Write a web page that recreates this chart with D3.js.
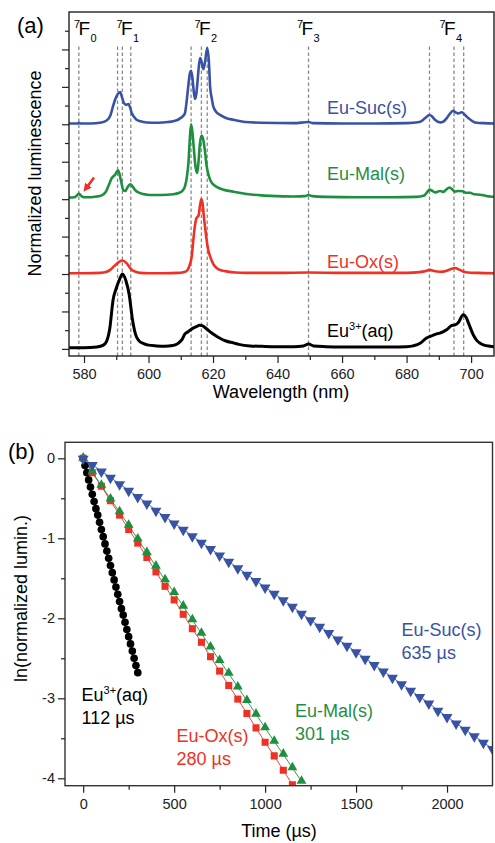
<!DOCTYPE html>
<html><head><meta charset="utf-8">
<script src="https://cdn.jsdelivr.net/npm/d3@7"></script>
<style>body{margin:0;background:#fff}svg{display:block}text{font-family:"Liberation Sans",Arial,sans-serif}</style>
</head><body><svg id="c" width="495" height="843"></svg>
<script>
// ---------- Panel (a) data: emission spectra [wavelength nm, normalized intensity] ----------
const seriesNames = ["Eu3+(aq)", "Eu-Ox(s)", "Eu-Mal(s)", "Eu-Suc(s)"];
const seriesOffsets = [0, 2, 4, 6];
const spectrumAq = [[575,0.03],[580,0.03],[584,0.05],[586,0.1],[587,0.2],[588,0.55],[589,1.3],[590,1.62],[591,1.85],[591.9,2.0],[593,1.82],[594,1.45],[595,0.8],[596,0.38],[597,0.22],[598.5,0.14],[600,0.1],[602.5,0.08],[605,0.07],[607.5,0.09],[609,0.14],[610.3,0.24],[611.3,0.4],[612.3,0.46],[613.2,0.52],[614,0.56],[615,0.6],[615.8,0.63],[616.6,0.62],[617.5,0.57],[618.5,0.5],[619.5,0.43],[620.5,0.37],[622,0.29],[624,0.21],[626.3,0.16],[628,0.12],[631.5,0.08],[635,0.07],[640,0.06],[645,0.06],[648,0.08],[649.6,0.13],[651.2,0.08],[655,0.06],[660,0.05],[665,0.05],[670,0.05],[675,0.05],[680,0.06],[682,0.08],[684.2,0.15],[685.2,0.22],[686.2,0.29],[687.2,0.33],[688.3,0.37],[689.3,0.4],[690.3,0.42],[691.4,0.46],[692.4,0.51],[693.9,0.62],[695,0.64],[696,0.7],[697.6,0.91],[698.4,0.85],[699.2,0.69],[700.7,0.37],[701.8,0.22],[702.8,0.15],[704,0.1],[705.9,0.07],[708,0.05]];
const spectrumOx = [[575,0.02],[580,0.02],[585,0.03],[587,0.06],[588.1,0.11],[589,0.18],[590.1,0.27],[591,0.33],[591.9,0.36],[593.2,0.29],[594.2,0.17],[595,0.1],[596,0.06],[597.4,0.03],[600,0.02],[605,0.02],[609,0.03],[610.8,0.05],[611.8,0.08],[612.8,0.25],[613.4,0.47],[613.9,0.92],[614.4,1.3],[614.9,1.5],[615.5,1.56],[616,1.85],[616.4,2.0],[616.8,1.85],[617.2,1.5],[617.6,1.2],[618,0.92],[618.5,0.65],[619.1,0.47],[620,0.28],[621.1,0.16],[622.5,0.1],[624.2,0.07],[627,0.04],[630,0.03],[640,0.03],[649.6,0.04],[660,0.03],[680,0.03],[684,0.05],[686,0.08],[687.2,0.11],[688.5,0.08],[690.3,0.06],[692.5,0.09],[694,0.14],[695,0.16],[696,0.13],[697.5,0.07],[699,0.04],[702,0.03],[708,0.02]];
const spectrumMal = [[575,0.04],[577,0.05],[577.8,0.1],[578.4,0.15],[579,0.1],[580,0.05],[582,0.05],[584,0.07],[585.5,0.1],[586.8,0.2],[587.8,0.4],[588.6,0.56],[589.6,0.65],[590.6,0.77],[591.4,0.52],[592.2,0.24],[592.8,0.22],[593.6,0.33],[594.4,0.4],[595,0.35],[595.8,0.25],[597.4,0.16],[599.5,0.12],[601.5,0.11],[604,0.11],[607.7,0.13],[609.5,0.17],[610.5,0.22],[611.3,0.34],[611.9,0.6],[612.4,1.0],[612.8,1.6],[613.2,2.0],[613.6,1.8],[614,1.4],[614.6,0.85],[615.1,0.7],[615.5,1.0],[615.9,1.45],[616.4,1.7],[616.8,1.65],[617.4,1.35],[618,0.9],[618.6,0.65],[619.2,0.5],[620,0.4],[621.1,0.33],[623,0.26],[626.3,0.2],[630.4,0.14],[635,0.1],[640,0.08],[645,0.07],[648.5,0.08],[649.6,0.11],[650.8,0.08],[655,0.06],[665,0.05],[675,0.05],[683,0.06],[685.5,0.1],[686.5,0.2],[687.1,0.26],[688,0.22],[688.8,0.18],[689.6,0.2],[690.4,0.22],[691.3,0.19],[692.2,0.25],[693.3,0.31],[694.2,0.26],[695,0.2],[696,0.22],[697.4,0.21],[698.5,0.17],[699.7,0.17],[701,0.13],[702.8,0.12],[704.5,0.09],[705.9,0.07],[708,0.06]];
const spectrumSuc = [[575,0.02],[578,0.02],[578.4,0.04],[579,0.02],[582,0.02],[585,0.04],[587,0.1],[588.1,0.22],[588.9,0.45],[589.6,0.65],[590.4,0.8],[591.2,0.86],[591.8,0.72],[592.4,0.56],[593.1,0.52],[593.8,0.54],[594.3,0.45],[594.8,0.3],[595.5,0.2],[596.3,0.12],[597.5,0.08],[599.4,0.05],[603,0.04],[606,0.06],[608.5,0.1],[609.8,0.16],[610.7,0.22],[611.3,0.3],[611.8,0.6],[612.3,1.0],[612.8,1.35],[613.2,1.43],[613.6,1.25],[614,0.9],[614.4,0.68],[614.8,0.8],[615.2,1.15],[615.6,1.55],[616,1.77],[616.5,1.65],[617,1.47],[617.5,1.65],[618.2,2.04],[618.7,1.7],[619.1,1.0],[619.6,0.7],[620.1,0.47],[621,0.33],[622.2,0.25],[624,0.17],[626.3,0.12],[630,0.06],[635,0.04],[645,0.03],[649.6,0.06],[651,0.03],[660,0.02],[670,0.02],[680,0.03],[684,0.06],[685.7,0.16],[687.1,0.25],[688,0.2],[688.8,0.12],[690.4,0.05],[691.5,0.08],[692.4,0.16],[693.4,0.28],[694.4,0.36],[695.2,0.32],[696,0.29],[697.1,0.32],[698.2,0.24],[699.2,0.16],[700.5,0.08],[701.8,0.04],[704,0.03],[708,0.02]];
const transitionLines = [578.4, 590.4, 591.9, 594.5, 613.2, 616.4, 618.2, 649.6, 687.1, 694.7, 697.7];
const transitionLabels = [{j:"0", x:74}, {j:"1", x:116.5}, {j:"2", x:194.5}, {j:"3", x:297}, {j:"4", x:439.5}];
const wlTicks = [580, 600, 620, 640, 660, 680, 700];

// ---------- Panel (b) data: ln(normalized luminescence) vs time (µs) ----------
const timeAq = [0,10,20,30,40,50,60,70,80,90,100,110,120,130,140,150,160,170,180,190,200,210,220,230,240,250,260,270,280,290,300];
const lnAq = [0,-0.09,-0.18,-0.27,-0.36,-0.45,-0.54,-0.63,-0.71,-0.80,-0.89,-0.98,-1.07,-1.16,-1.25,-1.34,-1.43,-1.52,-1.61,-1.70,-1.79,-1.88,-1.96,-2.05,-2.14,-2.23,-2.32,-2.41,-2.50,-2.59,-2.68];
const timeOx = [0,50,100,150,200,250,300,350,400,450,500,550,600,650,700,750,800,850,900,950,1000,1050,1100,1150];
const lnOx = [0,-0.18,-0.35,-0.53,-0.71,-0.89,-1.06,-1.24,-1.42,-1.60,-1.77,-1.95,-2.13,-2.30,-2.48,-2.66,-2.84,-3.01,-3.19,-3.37,-3.55,-3.72,-3.90,-4.08];
const timeMal = [0,50,100,150,200,250,300,350,400,450,500,550,600,650,700,750,800,850,900,950,1000,1050,1100,1150,1200];
const lnMal = [0,-0.17,-0.34,-0.51,-0.67,-0.84,-1.01,-1.18,-1.35,-1.52,-1.68,-1.85,-2.02,-2.19,-2.36,-2.53,-2.69,-2.86,-3.03,-3.20,-3.37,-3.54,-3.70,-3.87,-4.04];
const timeSuc = [0,50,100,150,200,250,300,350,400,450,500,550,600,650,700,750,800,850,900,950,1000,1050,1100,1150,1200,1250,1300,1350,1400,1450,1500,1550,1600,1650,1700,1750,1800,1850,1900,1950,2000,2050,2100,2150,2200,2250];
const lnSuc = [0,-0.08,-0.16,-0.24,-0.32,-0.40,-0.48,-0.56,-0.65,-0.73,-0.81,-0.89,-0.97,-1.05,-1.13,-1.21,-1.29,-1.37,-1.45,-1.53,-1.61,-1.69,-1.77,-1.85,-1.94,-2.02,-2.10,-2.18,-2.26,-2.34,-2.42,-2.50,-2.58,-2.66,-2.74,-2.82,-2.90,-2.98,-3.06,-3.15,-3.23,-3.31,-3.39,-3.47,-3.55,-3.63];
const lifetimes = ["112 µs", "280 µs", "301 µs", "635 µs"];
const timeTicks = [0, 500, 1000, 1500, 2000];
const lnTicks = [0, -1, -2, -3, -4];

const colors = ["#000000", "#ee3124", "#1e8f3e", "#3953a4"];
const svg = d3.select("#c");
const FONT = '"Liberation Sans", Arial, sans-serif';

// ================= Panel (a) =================
const A = {l:69, r:494, t:12, b:356};
const xA = d3.scaleLinear().domain([575.35, 707.1]).range([A.l, A.r]);
const yA = d3.scaleLinear().domain([-0.19, 9.0]).range([A.b, A.t]);

svg.append("defs").append("clipPath").attr("id","clipA")
  .append("rect").attr("x",A.l).attr("y",A.t).attr("width",A.r-A.l).attr("height",A.b-A.t);

svg.append("g").selectAll("line").data(transitionLines).join("line")
  .attr("x1", d=>xA(d)).attr("x2", d=>xA(d))
  .attr("y1", 46.5).attr("y2", A.b)
  .attr("stroke", "#8a8a8a").attr("stroke-width", 1.3).attr("stroke-dasharray", "3.5,2.5");

const spectra = [spectrumAq, spectrumOx, spectrumMal, spectrumSuc];
const gS = svg.append("g").attr("clip-path","url(#clipA)");
spectra.forEach((s, i) => {
  const line = d3.line().x(d=>xA(d[0])).y(d=>yA(d[1] + seriesOffsets[i])).curve(d3.curveMonotoneX);
  gS.append("path").datum(s).attr("d", line).attr("fill","none")
    .attr("stroke", colors[i]).attr("stroke-width", i===0 ? 3 : 2.6).attr("stroke-linejoin","round");
});

svg.append("rect").attr("x",A.l).attr("y",A.t).attr("width",A.r-A.l).attr("height",A.b-A.t)
  .attr("fill","none").attr("stroke","#222").attr("stroke-width",1.4);

svg.append("g").attr("transform",`translate(0,${A.b})`)
  .call(d3.axisBottom(xA).tickValues(wlTicks).tickSize(7).tickPadding(6).tickFormat(d=>String(d)));
svg.append("g").attr("transform",`translate(0,${A.b})`)
  .call(d3.axisBottom(xA).tickValues([590,610,630,650,670,690]).tickSize(4).tickFormat(""));
svg.append("g").attr("transform",`translate(${A.l},0)`)
  .call(d3.axisLeft(yA).tickValues([0,1,2,3,4,5,6,7,8]).tickSize(7).tickFormat(""));
svg.append("g").attr("transform",`translate(${A.l},0)`)
  .call(d3.axisLeft(yA).tickValues([0.5,1.5,2.5,3.5,4.5,5.5,6.5,7.5,8.5]).tickSize(4).tickFormat(""));

transitionLabels.forEach(t => {
  const g = svg.append("g");
  g.append("text").attr("x", t.x).attr("y", 28).attr("font-size", 11).text("7");
  g.append("text").attr("x", t.x + 4.5).attr("y", 35).attr("font-size", 19).text("F");
  g.append("text").attr("x", t.x + 16.5).attr("y", 42).attr("font-size", 11).text(t.j);
});

const labA = [{y:337, i:0}, {y:268, i:1}, {y:180, i:2}, {y:114, i:3}];
labA.forEach(l => {
  const t = svg.append("text").attr("x", 327).attr("y", l.y).attr("font-size", 18).attr("fill", colors[l.i]);
  if (l.i === 0) {
    t.append("tspan").text("Eu");
    t.append("tspan").attr("font-size", 11).attr("dy", -7).text("3+");
    t.append("tspan").attr("dy", 7).text("(aq)");
  } else t.text(seriesNames[l.i]);
});

svg.append("defs").append("marker").attr("id","ah").attr("viewBox","0 0 10 10")
  .attr("refX",5).attr("refY",5).attr("markerWidth",3.2).attr("markerHeight",3.2).attr("orient","auto")
  .append("path").attr("d","M0,0 L10,5 L0,10 z").attr("fill","#ee3124");
svg.append("line").attr("x1",94).attr("y1",177.5).attr("x2",86).attr("y2",188.5)
  .attr("stroke","#ee3124").attr("stroke-width",2.6).attr("marker-end","url(#ah)");

svg.append("text").attr("x",17).attr("y",33).attr("font-size",22).text("(a)");
svg.append("text").attr("x",281).attr("y",398).attr("font-size",18).attr("text-anchor","middle").text("Wavelength (nm)");
svg.append("text").attr("transform","translate(41,173.5) rotate(-90)").attr("font-size",18)
  .attr("text-anchor","middle").text("Normalized luminescence");

// ================= Panel (b) =================
const B = {l:65, r:492.5, t:442.3, b:785.7};
const xB = d3.scaleLinear().domain([-100, 2250]).range([B.l, B.r]);
const yB = d3.scaleLinear().domain([-4.0925, 0.2]).range([B.b, B.t]);

svg.append("defs").append("clipPath").attr("id","clipB")
  .append("rect").attr("x",B.l).attr("y",B.t).attr("width",B.r-B.l).attr("height",B.b-B.t);

const decays = [[timeAq,lnAq],[timeOx,lnOx],[timeMal,lnMal],[timeSuc,lnSuc]];
const gD = svg.append("g").attr("clip-path","url(#clipB)");
decays.forEach((dd, i) => {
  const pts = dd[0].map((t,k)=>[t, dd[1][k]]);
  gD.append("path").datum(pts).attr("d", d3.line().x(d=>xB(d[0])).y(d=>yB(d[1])))
    .attr("fill","none").attr("stroke", colors[i]).attr("stroke-width", 0.9);
});
const symTypes = [d3.symbolCircle, d3.symbolSquare, d3.symbolTriangle, d3.symbolTriangle];
const symSizes = [46, 50, 42, 52];
decays.forEach((dd, i) => {
  const pts = dd[0].map((t,k)=>[t, dd[1][k]]);
  const sym = d3.symbol().type(symTypes[i]).size(symSizes[i]);
  gD.append("g").selectAll("path").data(pts).join("path")
    .attr("d", sym)
    .attr("transform", d=>`translate(${xB(d[0])},${yB(d[1]) + (i===3 ? 0.5 : (i===2 ? -0.5 : 0))})` + (i===3 ? " rotate(180)" : ""))
    .attr("fill", colors[i]);
});

svg.append("rect").attr("x",B.l).attr("y",B.t).attr("width",B.r-B.l).attr("height",B.b-B.t)
  .attr("fill","none").attr("stroke","#333").attr("stroke-width",1.4);

svg.append("g").attr("transform",`translate(0,${B.b})`)
  .call(d3.axisBottom(xB).tickValues(timeTicks).tickSize(7).tickPadding(6).tickFormat(d=>String(d)));
svg.append("g").attr("transform",`translate(0,${B.b})`)
  .call(d3.axisBottom(xB).tickValues([250,750,1250,1750]).tickSize(4).tickFormat(""));
svg.append("g").attr("transform",`translate(${B.l},0)`)
  .call(d3.axisLeft(yB).tickValues(lnTicks).tickSize(7).tickPadding(3).tickFormat(d=>String(d)));
svg.append("g").attr("transform",`translate(${B.l},0)`)
  .call(d3.axisLeft(yB).tickValues([-0.5,-1.5,-2.5,-3.5]).tickSize(4).tickFormat(""));

const labB = [{x:81.5,y:701,i:0},{x:176.5,y:741.5,i:1},{x:295,y:717,i:2},{x:401.5,y:636,i:3}];
labB.forEach(l => {
  const t = svg.append("text").attr("x", l.x).attr("y", l.y).attr("font-size", 18).attr("fill", colors[l.i]);
  if (l.i === 0) {
    t.append("tspan").text("Eu");
    t.append("tspan").attr("font-size", 11).attr("dy", -7).text("3+");
    t.append("tspan").attr("dy", 7).text("(aq)");
  } else t.text(seriesNames[l.i]);
  svg.append("text").attr("x", l.x).attr("y", l.y + 23).attr("font-size", 18).attr("fill", colors[l.i]).text(lifetimes[l.i]);
});

svg.append("text").attr("x",8).attr("y",459).attr("font-size",22).text("(b)");
svg.append("text").attr("x",279).attr("y",837).attr("font-size",18).attr("text-anchor","middle").text("Time (µs)");
svg.append("text").attr("transform","translate(27,598.5) rotate(-90)").attr("font-size",18)
  .attr("text-anchor","middle").text("ln(normalized lumin.)");

svg.selectAll(".tick text").attr("font-size", 14.5).attr("font-family", FONT).attr("fill","#222");
svg.selectAll(".domain").remove();
svg.selectAll(".tick line").attr("stroke","#222").attr("stroke-width",1.2);
</script></body></html>
